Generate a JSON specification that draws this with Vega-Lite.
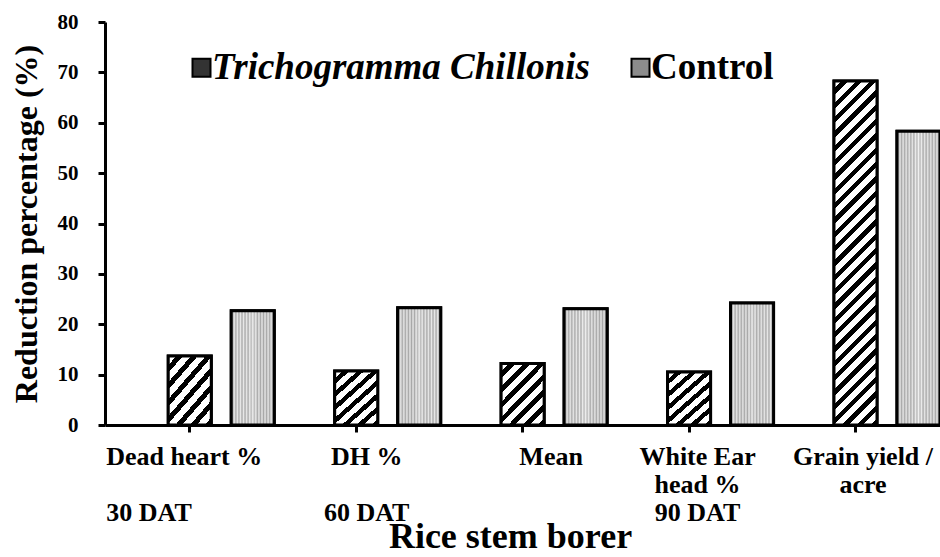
{
  "$schema": "https://vega.github.io/schema/vega-lite/v6.json",
  "autosize": {"type": "none"},
  "padding": {"left": 105, "top": 22, "right": 0, "bottom": 132},
  "width": 835,
  "height": 403,
  "background": "white",
  "config": {
    "view": {"stroke": null},
    "font": "Liberation Serif",
    "axis": {"titleFont": "Liberation Serif", "labelFont": "Liberation Serif"},
    "legend": {"labelFont": "Liberation Serif", "titleFont": "Liberation Serif"}
  },
  "data": {
    "values": [
      {"parameter": "Dead heart % (30 DAT)", "treatment": "Trichogramma Chillonis", "reduction": 13.7},
      {"parameter": "Dead heart % (30 DAT)", "treatment": "Control", "reduction": 22.7},
      {"parameter": "DH % (60 DAT)", "treatment": "Trichogramma Chillonis", "reduction": 10.7},
      {"parameter": "DH % (60 DAT)", "treatment": "Control", "reduction": 23.3},
      {"parameter": "Mean", "treatment": "Trichogramma Chillonis", "reduction": 12.2},
      {"parameter": "Mean", "treatment": "Control", "reduction": 23.1},
      {"parameter": "White Ear head % (90 DAT)", "treatment": "Trichogramma Chillonis", "reduction": 10.5},
      {"parameter": "White Ear head % (90 DAT)", "treatment": "Control", "reduction": 24.2},
      {"parameter": "Grain yield / acre", "treatment": "Trichogramma Chillonis", "reduction": 68.3},
      {"parameter": "Grain yield / acre", "treatment": "Control", "reduction": 58.3}
    ]
  },
  "encoding": {
    "x": {
      "field": "parameter",
      "type": "nominal",
      "sort": null,
      "scale": {"paddingInner": 0.363, "paddingOuter": 0.19, "align": 1},
      "axis": {
        "title": "Rice stem borer",
        "titleFontSize": 36,
        "titleFontWeight": "bold",
        "titleColor": "black",
        "titlePadding": -6,
        "titleX": 405,
        "bandPosition": 0.203,
        "labelExpr": "datum.value === 'Dead heart % (30 DAT)' ? ['Dead heart %', '\u200b', '30 DAT'] : datum.value === 'DH % (60 DAT)' ? ['DH %', '\u200b', '60 DAT'] : datum.value === 'White Ear head % (90 DAT)' ? ['White Ear', 'head %', '90 DAT'] : datum.value === 'Grain yield / acre' ? ['Grain yield /', 'acre'] : datum.value",
        "labelFontSize": 26,
        "labelFontWeight": "bold",
        "labelColor": "black",
        "labelLineHeight": 28,
        "labelPadding": 11,
        "labelAngle": 0,
        "labelOverlap": false,
        "labelLimit": 500,
        "labelAlign": {"condition": {"test": "datum.value === 'Dead heart % (30 DAT)'", "value": "left"}, "value": "center"},
        "labelOffset": {
          "condition": [
            {"test": "datum.value === 'Dead heart % (30 DAT)'", "value": -115},
            {"test": "datum.value === 'DH % (60 DAT)'", "value": -21},
            {"test": "datum.value === 'Mean'", "value": -3},
            {"test": "datum.value === 'White Ear head % (90 DAT)'", "value": -23}
          ],
          "value": -24
        },
        "tickSize": 7,
        "tickWidth": 3,
        "tickColor": "black",
        "domainColor": "black",
        "domainWidth": 3,
        "grid": false
      }
    },
    "xOffset": {
      "field": "treatment",
      "type": "nominal",
      "scale": {"domain": ["Trichogramma Chillonis", "Control"], "paddingInner": 0.317, "paddingOuter": 0}
    },
    "y": {
      "field": "reduction",
      "type": "quantitative",
      "scale": {"domain": [0, 80]},
      "axis": {
        "values": [0, 10, 20, 30, 40, 50, 60, 70, 80],
        "title": "Reduction percentage (%)",
        "titleFontSize": 32,
        "titleFontWeight": "bold",
        "titleColor": "black",
        "titlePadding": 14,
        "labelFontSize": 21,
        "labelFontWeight": "bold",
        "labelColor": "black",
        "labelPadding": 20,
        "tickSize": 7,
        "tickWidth": 3,
        "tickColor": "black",
        "domainColor": "black",
        "domainWidth": 3,
        "grid": false
      }
    }
  },
  "layer": [
    {
      "mark": {"type": "bar", "stroke": "black", "strokeWidth": 3},
      "encoding": {
        "fill": {
          "field": "treatment",
          "type": "nominal",
          "scale": {"domain": ["Trichogramma Chillonis", "Control"], "range": ["#333333", "#8c8c8c"]},
          "legend": {
            "orient": "none",
            "legendX": 78,
            "legendY": 27,
            "direction": "horizontal",
            "title": null,
            "labelFontSize": 37,
            "labelFontWeight": "bold",
            "labelColor": "black",
            "labelFontStyle": {"expr": "datum.value === 'Control' ? 'normal' : 'italic'"},
            "labelLimit": 500,
            "labelOffset": -8,
            "columnPadding": 32,
            "symbolType": "square",
            "symbolSize": 324,
            "symbolStrokeColor": "black",
            "symbolStrokeWidth": 2,
            "symbolOpacity": 1
          }
        }
      }
    },
    {
      "transform": [{"filter": "datum.treatment === 'Trichogramma Chillonis'"}],
      "mark": {"type": "bar", "stroke": "black", "strokeWidth": 3},
      "encoding": {
        "fill": {
          "condition": {
            "test": "datum.reduction > 40",
            "value": {
              "gradient": "linear", "x1": 0, "y1": 0, "x2": 0.1385, "y2": 1.1077,
              "stops": [
                {"offset": 0, "color": "#ffffff"}, {"offset": 0.0204, "color": "#ffffff"}, {"offset": 0.0204, "color": "#000000"}, {"offset": 0.037, "color": "#000000"},
                {"offset": 0.037, "color": "#ffffff"}, {"offset": 0.0574, "color": "#ffffff"}, {"offset": 0.0574, "color": "#000000"}, {"offset": 0.0741, "color": "#000000"},
                {"offset": 0.0741, "color": "#ffffff"}, {"offset": 0.0944, "color": "#ffffff"}, {"offset": 0.0944, "color": "#000000"}, {"offset": 0.1111, "color": "#000000"},
                {"offset": 0.1111, "color": "#ffffff"}, {"offset": 0.1315, "color": "#ffffff"}, {"offset": 0.1315, "color": "#000000"}, {"offset": 0.1481, "color": "#000000"},
                {"offset": 0.1481, "color": "#ffffff"}, {"offset": 0.1685, "color": "#ffffff"}, {"offset": 0.1685, "color": "#000000"}, {"offset": 0.1852, "color": "#000000"},
                {"offset": 0.1852, "color": "#ffffff"}, {"offset": 0.2056, "color": "#ffffff"}, {"offset": 0.2056, "color": "#000000"}, {"offset": 0.2222, "color": "#000000"},
                {"offset": 0.2222, "color": "#ffffff"}, {"offset": 0.2426, "color": "#ffffff"}, {"offset": 0.2426, "color": "#000000"}, {"offset": 0.2593, "color": "#000000"},
                {"offset": 0.2593, "color": "#ffffff"}, {"offset": 0.2796, "color": "#ffffff"}, {"offset": 0.2796, "color": "#000000"}, {"offset": 0.2963, "color": "#000000"},
                {"offset": 0.2963, "color": "#ffffff"}, {"offset": 0.3167, "color": "#ffffff"}, {"offset": 0.3167, "color": "#000000"}, {"offset": 0.3333, "color": "#000000"},
                {"offset": 0.3333, "color": "#ffffff"}, {"offset": 0.3537, "color": "#ffffff"}, {"offset": 0.3537, "color": "#000000"}, {"offset": 0.3704, "color": "#000000"},
                {"offset": 0.3704, "color": "#ffffff"}, {"offset": 0.3907, "color": "#ffffff"}, {"offset": 0.3907, "color": "#000000"}, {"offset": 0.4074, "color": "#000000"},
                {"offset": 0.4074, "color": "#ffffff"}, {"offset": 0.4278, "color": "#ffffff"}, {"offset": 0.4278, "color": "#000000"}, {"offset": 0.4444, "color": "#000000"},
                {"offset": 0.4444, "color": "#ffffff"}, {"offset": 0.4648, "color": "#ffffff"}, {"offset": 0.4648, "color": "#000000"}, {"offset": 0.4815, "color": "#000000"},
                {"offset": 0.4815, "color": "#ffffff"}, {"offset": 0.5019, "color": "#ffffff"}, {"offset": 0.5019, "color": "#000000"}, {"offset": 0.5185, "color": "#000000"},
                {"offset": 0.5185, "color": "#ffffff"}, {"offset": 0.5389, "color": "#ffffff"}, {"offset": 0.5389, "color": "#000000"}, {"offset": 0.5556, "color": "#000000"},
                {"offset": 0.5556, "color": "#ffffff"}, {"offset": 0.5759, "color": "#ffffff"}, {"offset": 0.5759, "color": "#000000"}, {"offset": 0.5926, "color": "#000000"},
                {"offset": 0.5926, "color": "#ffffff"}, {"offset": 0.613, "color": "#ffffff"}, {"offset": 0.613, "color": "#000000"}, {"offset": 0.6296, "color": "#000000"},
                {"offset": 0.6296, "color": "#ffffff"}, {"offset": 0.65, "color": "#ffffff"}, {"offset": 0.65, "color": "#000000"}, {"offset": 0.6667, "color": "#000000"},
                {"offset": 0.6667, "color": "#ffffff"}, {"offset": 0.687, "color": "#ffffff"}, {"offset": 0.687, "color": "#000000"}, {"offset": 0.7037, "color": "#000000"},
                {"offset": 0.7037, "color": "#ffffff"}, {"offset": 0.7241, "color": "#ffffff"}, {"offset": 0.7241, "color": "#000000"}, {"offset": 0.7407, "color": "#000000"},
                {"offset": 0.7407, "color": "#ffffff"}, {"offset": 0.7611, "color": "#ffffff"}, {"offset": 0.7611, "color": "#000000"}, {"offset": 0.7778, "color": "#000000"},
                {"offset": 0.7778, "color": "#ffffff"}, {"offset": 0.7981, "color": "#ffffff"}, {"offset": 0.7981, "color": "#000000"}, {"offset": 0.8148, "color": "#000000"},
                {"offset": 0.8148, "color": "#ffffff"}, {"offset": 0.8352, "color": "#ffffff"}, {"offset": 0.8352, "color": "#000000"}, {"offset": 0.8519, "color": "#000000"},
                {"offset": 0.8519, "color": "#ffffff"}, {"offset": 0.8722, "color": "#ffffff"}, {"offset": 0.8722, "color": "#000000"}, {"offset": 0.8889, "color": "#000000"},
                {"offset": 0.8889, "color": "#ffffff"}, {"offset": 0.9093, "color": "#ffffff"}, {"offset": 0.9093, "color": "#000000"}, {"offset": 0.9259, "color": "#000000"},
                {"offset": 0.9259, "color": "#ffffff"}, {"offset": 0.9463, "color": "#ffffff"}, {"offset": 0.9463, "color": "#000000"}, {"offset": 0.963, "color": "#000000"},
                {"offset": 0.963, "color": "#ffffff"}, {"offset": 0.9833, "color": "#ffffff"}, {"offset": 0.9833, "color": "#000000"}, {"offset": 1, "color": "#000000"}
              ]
            }
          },
          "value": {
            "gradient": "linear", "x1": 0, "y1": 0, "x2": 0.8128, "y2": 1.1341,
            "stops": [
              {"offset": 0, "color": "#ffffff"}, {"offset": 0.0786, "color": "#ffffff"}, {"offset": 0.0786, "color": "#000000"}, {"offset": 0.1429, "color": "#000000"},
              {"offset": 0.1429, "color": "#ffffff"}, {"offset": 0.2214, "color": "#ffffff"}, {"offset": 0.2214, "color": "#000000"}, {"offset": 0.2857, "color": "#000000"},
              {"offset": 0.2857, "color": "#ffffff"}, {"offset": 0.3643, "color": "#ffffff"}, {"offset": 0.3643, "color": "#000000"}, {"offset": 0.4286, "color": "#000000"},
              {"offset": 0.4286, "color": "#ffffff"}, {"offset": 0.5071, "color": "#ffffff"}, {"offset": 0.5071, "color": "#000000"}, {"offset": 0.5714, "color": "#000000"},
              {"offset": 0.5714, "color": "#ffffff"}, {"offset": 0.65, "color": "#ffffff"}, {"offset": 0.65, "color": "#000000"}, {"offset": 0.7143, "color": "#000000"},
              {"offset": 0.7143, "color": "#ffffff"}, {"offset": 0.7929, "color": "#ffffff"}, {"offset": 0.7929, "color": "#000000"}, {"offset": 0.8571, "color": "#000000"},
              {"offset": 0.8571, "color": "#ffffff"}, {"offset": 0.9357, "color": "#ffffff"}, {"offset": 0.9357, "color": "#000000"}, {"offset": 1, "color": "#000000"}
            ]
          }
        }
      }
    },
    {
      "transform": [{"filter": "datum.treatment === 'Control'"}],
      "mark": {
        "type": "bar",
        "stroke": "black",
        "strokeWidth": 3,
        "fill": {
          "gradient": "linear", "x1": 0, "y1": 0, "x2": 1, "y2": 0,
          "stops": [
            {"offset": 0, "color": "#e8e8e8"}, {"offset": 0.0357, "color": "#a8a8a8"}, {"offset": 0.0714, "color": "#e8e8e8"}, {"offset": 0.1071, "color": "#a8a8a8"},
            {"offset": 0.1429, "color": "#e8e8e8"}, {"offset": 0.1786, "color": "#a8a8a8"}, {"offset": 0.2143, "color": "#e8e8e8"}, {"offset": 0.25, "color": "#a8a8a8"},
            {"offset": 0.2857, "color": "#e8e8e8"}, {"offset": 0.3214, "color": "#a8a8a8"}, {"offset": 0.3571, "color": "#e8e8e8"}, {"offset": 0.3929, "color": "#a8a8a8"},
            {"offset": 0.4286, "color": "#ececec"}, {"offset": 0.4643, "color": "#b8b8b8"}, {"offset": 0.5, "color": "#f0f0f0"}, {"offset": 0.5357, "color": "#b8b8b8"},
            {"offset": 0.5714, "color": "#ececec"}, {"offset": 0.6071, "color": "#a8a8a8"}, {"offset": 0.6429, "color": "#e8e8e8"}, {"offset": 0.6786, "color": "#a8a8a8"},
            {"offset": 0.7143, "color": "#e8e8e8"}, {"offset": 0.75, "color": "#a8a8a8"}, {"offset": 0.7857, "color": "#e8e8e8"}, {"offset": 0.8214, "color": "#a8a8a8"},
            {"offset": 0.8571, "color": "#e8e8e8"}, {"offset": 0.8929, "color": "#a8a8a8"}, {"offset": 0.9286, "color": "#e8e8e8"}, {"offset": 0.9643, "color": "#a8a8a8"},
            {"offset": 1, "color": "#e8e8e8"}
          ]
        }
      }
    }
  ]
}
